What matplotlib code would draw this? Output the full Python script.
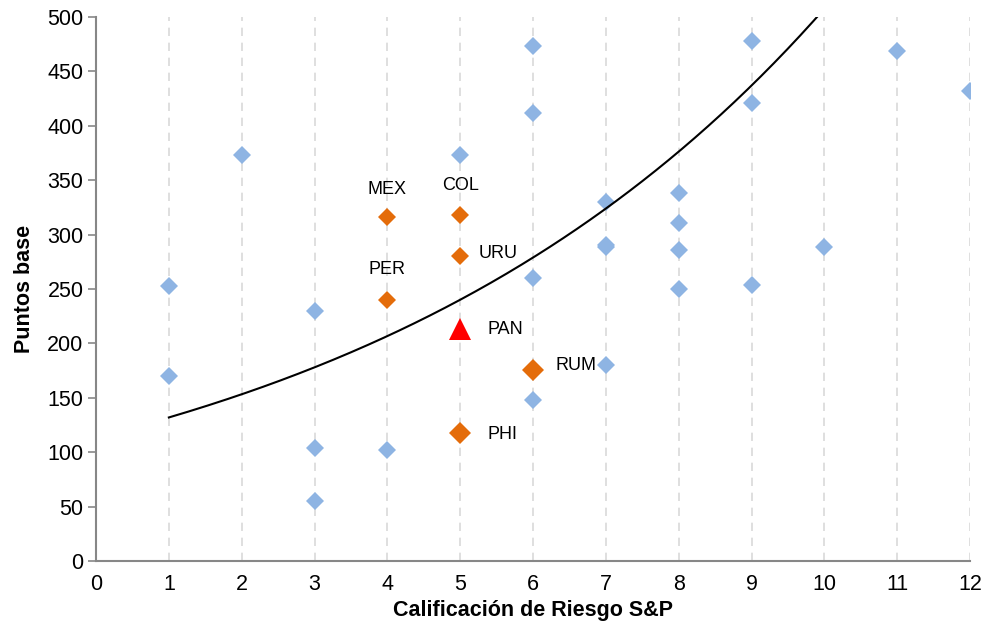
import numpy as np
import matplotlib as mpl
import matplotlib.pyplot as plt

mpl.rcParams['font.family'] = ['Liberation Sans', 'DejaVu Sans']

# Paises de comparacion (azul)
x_otros = [1, 1, 2, 3, 3, 3, 4, 5, 6, 6, 6, 6, 7, 7, 7, 7, 8, 8, 8, 8, 9, 9, 9, 10, 11, 12]
y_otros = [253, 170, 373, 230, 104, 55, 102, 373, 473, 412, 260, 148, 330, 289, 290, 180,
           338, 311, 286, 250, 478, 421, 254, 289, 469, 432]

# Paises destacados (naranja)
paises = ['MEX', 'COL', 'URU', 'PER', 'RUM', 'PHI']
x_paises = [4, 5, 5, 4, 6, 5]
y_paises = [316, 318, 280, 240, 176, 118]

# Panama
x_pan = [5]
y_pan = [213]

# Linea de tendencia exponencial y = a*exp(b*x)
trend_a = 113.6
trend_b = 0.1497

fig = plt.figure(figsize=(9.86, 6.23), dpi=100)
ax = fig.add_axes([0.0974, 0.0995, 0.8864, 0.8732])

gris = '#878787'
for xv in range(1, 13):
    ax.axvline(xv, color='#d9d9d9', lw=1.2, ls=(0, (5, 4)), zorder=0)

ax.plot(x_otros, y_otros, 'D', color='#8eb4e3', ms=9, mew=0, zorder=3)

grande = [9, 9, 9, 9, 11.5, 11.5]
for xp, yp, s in zip(x_paises, y_paises, grande):
    ax.plot(xp, yp, 'D', color='#e46c0a', ms=s, mew=0, zorder=4)

ax.plot(x_pan, y_pan, '^', color='#ff0000', ms=16, mew=0, zorder=4)

xt = np.linspace(1, 10, 300)
ax.plot(xt, trend_a * np.exp(trend_b * xt), color='k', lw=1.5, zorder=5)

# Etiquetas
offs = {'MEX': (0, 20, 'center'), 'COL': (0, 21, 'center'), 'URU': (13, 2, 'left'),
        'PER': (0, 22, 'center'), 'RUM': (16, 3, 'left'), 'PHI': (20, -1, 'left')}
for p, xp, yp in zip(paises, x_paises, y_paises):
    dx, dy, ha = offs[p]
    ax.annotate(p, (xp, yp), xytext=(dx, dy), textcoords='offset points',
                ha=ha, va='center', fontsize=13)
ax.annotate('PAN', (x_pan[0], y_pan[0]), xytext=(20, 0), textcoords='offset points',
            ha='left', va='center', fontsize=13)

ax.set_xlim(0, 12)
ax.set_ylim(0, 500)
ax.set_xticks(range(0, 13))
ax.set_yticks(range(0, 501, 50))
ax.spines['top'].set_visible(False)
ax.spines['right'].set_visible(False)
for s in ['left', 'bottom']:
    ax.spines[s].set_color(gris)
    ax.spines[s].set_linewidth(1.5)
    ax.spines[s].set_clip_on(False)
ax.tick_params(axis='y', length=6, width=1.2, color=gris, labelsize=15.5, pad=3)
ax.tick_params(axis='x', length=0, labelsize=15.5, pad=9)

ax.set_xlabel('Calificación de Riesgo S&P', fontsize=15.5, fontweight='bold', labelpad=4)
ax.set_ylabel('Puntos base', fontsize=15.5, fontweight='bold', labelpad=9)

fig.savefig('out.png', dpi=100)
